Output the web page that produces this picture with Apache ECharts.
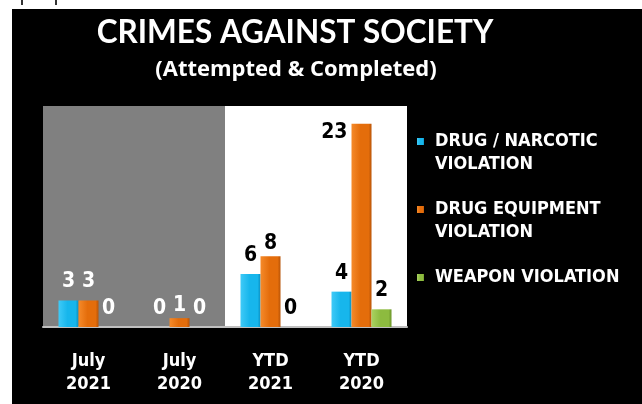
<!DOCTYPE html>
<html><head><meta charset="utf-8">
<script src="https://cdn.jsdelivr.net/npm/echarts@6/dist/echarts.min.js"></script>
<style>html,body{margin:0;padding:0;background:#fff;}#c{width:642px;height:404px;}</style>
</head><body><div id="c"></div>
<script>
const categories = ['July\n2021', 'July\n2020', 'YTD\n2021', 'YTD\n2020'];
const seriesNames = ['DRUG / NARCOTIC VIOLATION', 'DRUG EQUIPMENT VIOLATION', 'WEAPON VIOLATION'];
const legendLabels = ['DRUG / NARCOTIC\nVIOLATION', 'DRUG EQUIPMENT\nVIOLATION', 'WEAPON VIOLATION'];
const drugNarcotic = [3, 0, 6, 4];
const drugEquipment = [3, 1, 8, 23];
const weaponViolation = [0, 0, 0, 2];
const titleText = 'CRIMES AGAINST SOCIETY';
const subtitleText = '(Attempted & Completed)';

const COND = "'DejaVu Sans Condensed', 'DejaVu Sans', sans-serif";
const palettes = [
  ['#3fcaf7', '#17b6ec', '#0b8fc0'],
  ['#f58a2a', '#e46d0b', '#b85407'],
  ['#a9d261', '#8dbb3f', '#6b9429']
];
// label distance tweaks (series index -> category index -> distance)
const labelDistanceTweak = { 1: { 1: 2, 2: 2 } };
function grad(p) {
  return new echarts.graphic.LinearGradient(0, 0, 1, 0, [
    { offset: 0, color: p[0] }, { offset: 0.45, color: p[1] }, { offset: 0.85, color: p[1] }, { offset: 1, color: p[2] }
  ]);
}
function buildData(values, k) {
  return values.map(function (v, i) {
    const lbl = { color: i < 2 ? '#ffffff' : '#000000' };
    if (labelDistanceTweak[k] && labelDistanceTweak[k][i] !== undefined) lbl.distance = labelDistanceTweak[k][i];
    if (v >= 20) { lbl.position = [-4, -2]; lbl.align = 'right'; lbl.verticalAlign = 'top'; }
    return { value: v, label: lbl };
  });
}
const valueSets = [drugNarcotic, drugEquipment, weaponViolation];
const series = valueSets.map(function (vals, k) {
  return {
    name: seriesNames[k], type: 'bar', barWidth: 20, barGap: '0%',
    itemStyle: { color: grad(palettes[k]) },
    label: { show: true, position: 'top', distance: 8, fontFamily: COND, fontWeight: 'bold', fontSize: 21 },
    data: buildData(vals, k)
  };
});

const chart = echarts.init(document.getElementById('c'));
chart.setOption({
  backgroundColor: '#ffffff',
  animation: false,
  graphic: [
    { type: 'rect', shape: { x: 12, y: 9, width: 630, height: 395 }, style: { fill: '#000000' }, z: -10 },
    { type: 'rect', shape: { x: 21, y: 0, width: 2, height: 5 }, style: { fill: '#333333' }, z: -10 },
    { type: 'rect', shape: { x: 55, y: 0, width: 2, height: 5 }, style: { fill: '#333333' }, z: -10 }
  ],
  title: [
    { text: titleText, left: 295, top: 17, textAlign: 'center', padding: 0,
      textStyle: { color: '#ffffff', fontFamily: 'Lato', fontWeight: 'bold', fontSize: 31.5 } },
    { text: subtitleText, left: 296, top: 59, textAlign: 'center', padding: 0,
      textStyle: { color: '#ffffff', fontFamily: 'Open Sans', fontWeight: 'bold', fontSize: 22 } }
  ],
  legend: {
    orient: 'vertical', left: 417, top: 107, padding: 0, itemGap: -1,
    itemWidth: 7, itemHeight: 7, icon: 'rect',
    textStyle: { color: '#ffffff', fontFamily: COND, fontWeight: 'bold', fontSize: 18, lineHeight: 23, padding: [0, 0, 0, 6] },
    data: seriesNames,
    formatter: function (name) {
      const t = legendLabels[seriesNames.indexOf(name)];
      return t.indexOf('\n') >= 0 ? '\n' + t : '\n' + t + '\n ';
    }
  },
  grid: { left: 43, right: 235, top: 106, bottom: 77 },
  xAxis: {
    type: 'category', data: categories,
    axisLine: { show: true, lineStyle: { color: '#c0c0c0', width: 2 } },
    axisTick: { show: false },
    splitArea: { show: true, areaStyle: { color: ['#808080', '#808080', '#ffffff', '#ffffff'] } },
    axisLabel: { color: '#ffffff', fontFamily: COND, fontWeight: 'bold', fontSize: 18, lineHeight: 23, margin: 23 }
  },
  yAxis: { type: 'value', min: 0, max: 25, show: false, splitLine: { show: false } },
  series: series
});
</script></body></html>
